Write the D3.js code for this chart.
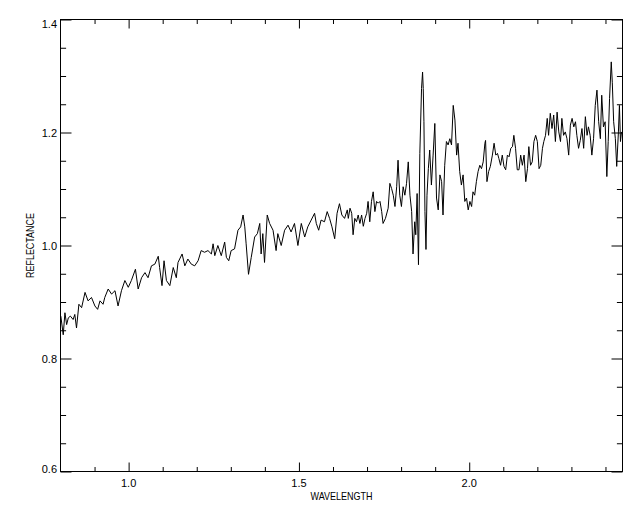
<!DOCTYPE html>
<html>
<head>
<meta charset="utf-8">
<script src="https://cdn.jsdelivr.net/npm/d3@7"></script>
<style>
	body { margin: 0; background: #fff; }
	text { font-family: 'Liberation Sans', Arial, sans-serif; fill: #000; }
</style>
</head>
<body>
<svg id="chart" width="640" height="512"></svg>
<script>
let wavelength = [
	0.801, 0.808, 0.813, 0.818, 0.823, 0.829, 0.837, 0.842, 0.847, 0.854,
	0.862, 0.872, 0.881, 0.891, 0.901, 0.909, 0.916, 0.925, 0.930, 0.940,
	0.950, 0.960, 0.969, 0.979, 0.989, 0.999, 1.008, 1.020, 1.028, 1.038,
	1.048, 1.057, 1.067, 1.077, 1.087, 1.091, 1.098, 1.104, 1.111, 1.121,
	1.131, 1.140, 1.145, 1.157, 1.165, 1.174, 1.184, 1.194, 1.204, 1.213,
	1.223, 1.233, 1.243, 1.248, 1.253, 1.262, 1.272, 1.282, 1.287, 1.294,
	1.301, 1.311, 1.321, 1.329, 1.336, 1.341, 1.345, 1.352, 1.360, 1.370,
	1.378, 1.385, 1.389, 1.394, 1.399, 1.407, 1.414, 1.424, 1.433, 1.438,
	1.448, 1.458, 1.468, 1.477, 1.487, 1.497, 1.507, 1.517, 1.526, 1.536,
	1.546, 1.551, 1.558, 1.565, 1.575, 1.583, 1.590, 1.597, 1.605, 1.612,
	1.619, 1.626, 1.634, 1.642,
	1.645, 1.650, 1.655, 1.659, 1.664, 1.669, 1.674, 1.679, 1.684, 1.689,
	1.694, 1.699, 1.703, 1.708, 1.713, 1.718, 1.723, 1.728, 1.733, 1.738,
	1.743, 1.747, 1.754, 1.762, 1.767, 1.772, 1.777, 1.782, 1.787, 1.791,
	1.796, 1.801, 1.806, 1.811, 1.816, 1.821, 1.826, 1.831, 1.835, 1.840,
	1.843, 1.847, 1.851, 1.855, 1.860, 1.863, 1.865, 1.867, 1.870, 1.873,
	1.876, 1.880, 1.884, 1.889, 1.894, 1.899, 1.904, 1.909, 1.914, 1.919,
	1.923, 1.928, 1.933, 1.938, 1.943, 1.948, 1.953, 1.958, 1.963, 1.967,
	1.972, 1.977, 1.982, 1.987, 1.992, 1.997, 2.002, 2.007, 2.011, 2.016,
	2.021, 2.026, 2.031, 2.036, 2.041, 2.046, 2.048, 2.052, 2.057, 2.062,
	2.068, 2.073, 2.078, 2.083, 2.087, 2.092, 2.097, 2.102, 2.107, 2.112,
	2.117, 2.122, 2.127, 2.131, 2.136, 2.141, 2.146, 2.151, 2.156, 2.161,
	2.166, 2.171, 2.175, 2.180, 2.185, 2.190, 2.195, 2.200, 2.205, 2.210,
	2.215, 2.219, 2.224, 2.229, 2.233, 2.238, 2.243, 2.248, 2.253, 2.258,
	2.263, 2.268, 2.272, 2.277, 2.282, 2.287, 2.292, 2.297, 2.302, 2.307,
	2.312, 2.316, 2.321, 2.326, 2.331, 2.336, 2.341, 2.346, 2.350, 2.355,
	2.360, 2.365, 2.370, 2.375, 2.380, 2.385, 2.389, 2.394, 2.399, 2.404,
	2.408, 2.412, 2.417, 2.420, 2.424, 2.429, 2.433, 2.438, 2.441, 2.444,
	2.447
];

let reflectance = [
	0.875, 0.842, 0.881, 0.860, 0.872, 0.875, 0.869, 0.878, 0.854, 0.896,
	0.890, 0.917, 0.902, 0.908, 0.893, 0.887, 0.902, 0.896, 0.908, 0.923,
	0.914, 0.920, 0.893, 0.920, 0.938, 0.926, 0.938, 0.958, 0.923, 0.943,
	0.952, 0.943, 0.964, 0.967, 0.981, 0.961, 0.929, 0.973, 0.938, 0.929,
	0.961, 0.943, 0.970, 0.985, 0.964, 0.976, 0.967, 0.964, 0.973, 0.991,
	0.988, 0.991, 0.985, 1.003, 0.982, 1.000, 0.982, 1.006, 0.979, 0.973,
	0.991, 0.994, 1.027, 1.033, 1.054, 1.033, 1.003, 0.949, 0.979, 1.015,
	1.021, 1.039, 0.985, 1.021, 0.970, 1.054, 1.039, 1.027, 0.991, 1.021,
	1.000, 1.027, 1.036, 1.024, 1.039, 1.000, 1.039, 1.015, 1.033, 1.045,
	1.057, 1.039, 1.027, 1.045, 1.042, 1.060, 1.048, 1.033, 1.012, 1.057,
	1.074, 1.054, 1.048, 1.063,
	1.048, 1.066, 1.057, 1.019, 1.048, 1.042, 1.054, 1.039, 1.054, 1.034,
	1.048, 1.057, 1.078, 1.042, 1.078, 1.095, 1.060, 1.078, 1.075, 1.078,
	1.060, 1.039, 1.048, 1.066, 1.110, 1.101, 1.089, 1.069, 1.104, 1.151,
	1.089, 1.069, 1.104, 1.089, 1.110, 1.148, 1.089, 1.060, 0.985, 1.042,
	1.019, 1.092, 0.966, 1.163, 1.278, 1.307, 1.278, 1.219, 1.060, 0.993,
	1.089, 1.136, 1.169, 1.107, 1.160, 1.216, 1.084, 1.063, 1.125, 1.113,
	1.054, 1.142, 1.184, 1.178, 1.189, 1.178, 1.248, 1.222, 1.160, 1.181,
	1.131, 1.107, 1.125, 1.078, 1.084, 1.063, 1.078, 1.069, 1.095, 1.089,
	1.113, 1.131, 1.142, 1.136, 1.148, 1.181, 1.186, 1.113, 1.131, 1.140,
	1.160, 1.181, 1.160, 1.163, 1.154, 1.142, 1.160, 1.140, 1.134, 1.160,
	1.157, 1.172, 1.175, 1.195, 1.172, 1.134, 1.134, 1.160, 1.142, 1.160,
	1.113, 1.136, 1.175, 1.142, 1.148, 1.184, 1.195, 1.184, 1.136, 1.142,
	1.172, 1.184, 1.195, 1.225, 1.195, 1.234, 1.207, 1.231, 1.184, 1.236,
	1.201, 1.184, 1.225, 1.195, 1.201, 1.189, 1.160, 1.213, 1.225, 1.210,
	1.219, 1.195, 1.172, 1.186, 1.207, 1.172, 1.228, 1.195, 1.210, 1.195,
	1.160, 1.189, 1.248, 1.275, 1.219, 1.189, 1.266, 1.210, 1.219, 1.122,
	1.184, 1.260, 1.325, 1.289, 1.219, 1.189, 1.140, 1.201, 1.248, 1.184,
	1.201
];

let xMajorTicks = [1.0, 1.5, 2.0];
let xMinorTicks = [0.9, 1.1, 1.2, 1.3, 1.4, 1.6, 1.7, 1.8, 1.9, 2.1, 2.2, 2.3, 2.4];
let yMajorTicks = [0.6, 0.8, 1.0, 1.2, 1.4];
let yMinorTicks = [0.65, 0.7, 0.75, 0.85, 0.9, 0.95, 1.05, 1.1, 1.15, 1.25, 1.3, 1.35];

let plotLeft = 60.5, plotRight = 622.5, plotTop = 19.5, plotBottom = 471.5;

let x = d3.scaleLinear().domain([0.8, 2.45]).range([plotLeft, plotRight]);
let y = d3.scaleLinear().domain([0.6, 1.4]).range([plotBottom, plotTop]);

let svg = d3.select('#chart');

svg.append('defs')
	.append('clipPath')
	.attr('id', 'plot-clip')
	.append('rect')
	.attr('x', plotLeft)
	.attr('y', plotTop)
	.attr('width', plotRight - plotLeft)
	.attr('height', plotBottom - plotTop);

// IDL style box, ticks inward on all four sides (length 2% of the plot)
let xMajLen = 9, xMinLen = 4.5, yMajLen = 11, yMinLen = 5.6;

function ticks(axis, pos, values, size) {
	svg.append('g')
		.attr('transform', pos)
		.call(axis.tickValues(values).tickSize(size).tickFormat(''))
		.call(g => g.select('.domain').remove());
}

ticks(d3.axisTop(x), 'translate(0,' + plotBottom + ')', xMajorTicks, xMajLen);
ticks(d3.axisTop(x), 'translate(0,' + plotBottom + ')', xMinorTicks, xMinLen);
ticks(d3.axisBottom(x), 'translate(0,' + plotTop + ')', xMajorTicks, xMajLen);
ticks(d3.axisBottom(x), 'translate(0,' + plotTop + ')', xMinorTicks, xMinLen);
ticks(d3.axisRight(y), 'translate(' + plotLeft + ',0)', yMajorTicks, yMajLen);
ticks(d3.axisRight(y), 'translate(' + plotLeft + ',0)', yMinorTicks, yMinLen);
ticks(d3.axisLeft(y), 'translate(' + plotRight + ',0)', yMajorTicks, yMajLen);
ticks(d3.axisLeft(y), 'translate(' + plotRight + ',0)', yMinorTicks, yMinLen);

svg.selectAll('.tick line').attr('stroke', '#000').attr('stroke-width', 1);

// tick labels
svg.append('g')
	.selectAll('text')
	.data(xMajorTicks)
	.enter()
	.append('text')
	.attr('x', d => x(d))
	.attr('y', 487)
	.attr('text-anchor', 'middle')
	.style('font-size', '11px')
	.text(d => d.toFixed(1));

svg.append('g')
	.selectAll('text')
	.data(yMajorTicks)
	.enter()
	.append('text')
	.attr('x', 57)
	.attr('y', d => Math.max(plotTop + 8, Math.min(plotBottom + 1, y(d) + 4)))
	.attr('text-anchor', 'end')
	.style('font-size', '11px')
	.text(d => d.toFixed(1));

svg.append('text')
	.attr('x', (plotLeft + plotRight) / 2)
	.attr('y', 500)
	.attr('text-anchor', 'middle')
	.attr('textLength', 62)
	.attr('lengthAdjust', 'spacingAndGlyphs')
	.style('font-size', '11px')
	.text('WAVELENGTH');

svg.append('text')
	.attr('transform', 'translate(34,' + (plotTop + plotBottom) / 2 + ') rotate(-90)')
	.attr('text-anchor', 'middle')
	.attr('textLength', 65)
	.attr('lengthAdjust', 'spacingAndGlyphs')
	.style('font-size', '11px')
	.text('REFLECTANCE');

// spectrum
let points = wavelength.map((w, i) => [w, reflectance[i]]);

let line = d3.line()
	.x(d => x(d[0]))
	.y(d => y(d[1]));

svg.append('path')
	.datum(points)
	.attr('clip-path', 'url(#plot-clip)')
	.attr('fill', 'none')
	.attr('stroke', '#000')
	.attr('stroke-width', 1)
	.attr('d', line);

// box
svg.append('rect')
	.attr('x', plotLeft)
	.attr('y', plotTop)
	.attr('width', plotRight - plotLeft)
	.attr('height', plotBottom - plotTop)
	.attr('fill', 'none')
	.attr('stroke', '#000')
	.attr('stroke-width', 1);
</script>
</body>
</html>
